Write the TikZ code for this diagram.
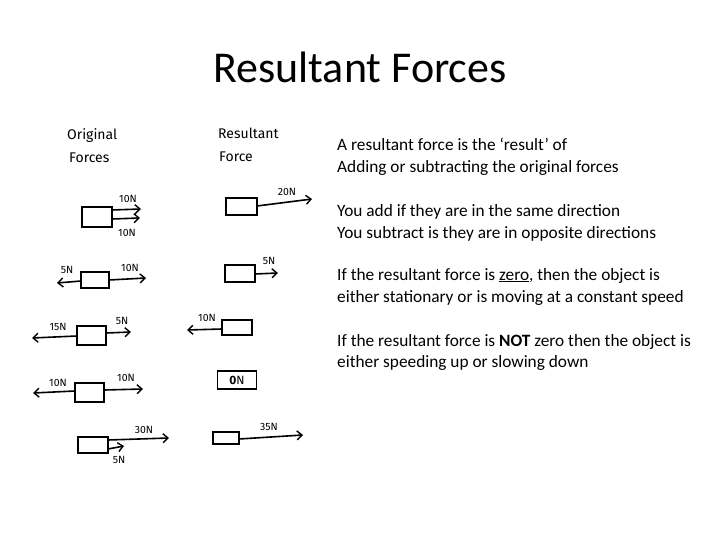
\documentclass[tikz,border=0pt]{standalone}
\usepackage{fontspec}
\setmainfont{Carlito}
\newfontfamily\handfont{Fira Sans}
\usetikzlibrary{arrows.meta}
\tikzset{
  body/.style={anchor=base west, inner sep=0pt, font=\fontsize{17.3}{20}\selectfont},
  obj/.style={draw, line width=1.6pt},
  force/.style={line width=1.6pt, -{Straight Barb[length=5pt,width=9pt,line width=1.4pt]}},
  hand/.style={inner sep=0pt, font=\handfont\fontsize{10.5}{12}\selectfont},
  head/.style={inner sep=0pt, anchor=west, font=\handfont\fontsize{14}{16}\selectfont}
}
\begin{document}
\begin{tikzpicture}[x=1pt,y=-1pt]
\useasboundingbox (0,0) rectangle (720,540);
% title
\node[inner sep=0pt, font=\fontsize{44}{48}\selectfont] (title) at (360,67) {Resultant Forces};
% body text
\node[body] (t1) at (337,151) {A resultant force is the ‘result’ of};
\node[body] (t2) at (337,173) {Adding or subtracting the original forces};
\node[body] (t3) at (337,216) {You add if they are in the same direction};
\node[body] (t4) at (337,238) {You subtract is they are in opposite directions};
\node[body] (t5) at (337,280) {If the resultant force is \underline{zero}, then the object is};
\node[body] (t6) at (337,302) {either stationary or is moving at a constant speed};
\node[body] (t7) at (337,346) {If the resultant force is \textbf{NOT} zero then the object is};
\node[body] (t8) at (337,367) {either speeding up or slowing down};
% headings
\node[head] (h1) at (67,136) {Original};
\node[head] (h2) at (69,158) {Forces};
\node[head] (h3) at (218,133) {Resultant};
\node[head] (h4) at (219,157) {Force};
% row 1
\draw[obj] (82,207) rectangle (112,227);
\coordinate (o1a) at (112,210); \coordinate (o1b) at (112,219);
\coordinate (e1a) at (141,209); \coordinate (e1b) at (140,218);
\draw[force] (o1a) -- (e1a);
\draw[force] (o1b) -- (e1b);
\node[hand] (l1a) at (128,199) {10N};
\node[hand] (l1b) at (127,233) {10N};
\draw[obj] (226,198) rectangle (257,215);
\coordinate (r1s) at (257,206); \coordinate (r1e) at (312,199);
\draw[force] (r1s) -- (r1e);
\node[hand] (r1l) at (287,192) {20N};
% row 2
\draw[obj] (81,272) rectangle (109,288);
\coordinate (o2l) at (81,281); \coordinate (e2l) at (57,283);
\coordinate (o2r) at (109,280); \coordinate (e2r) at (146,278);
\draw[force] (o2l) -- (e2l);
\draw[force] (o2r) -- (e2r);
\node[hand] (l2a) at (67,270) {5N};
\node[hand] (l2b) at (130,268) {10N};
\draw[obj] (225,265) rectangle (255,282);
\coordinate (r2s) at (255,274); \coordinate (r2e) at (278,273);
\draw[force] (r2s) -- (r2e);
\node[hand] (r2l) at (269,261) {5N};
% row 3
\draw[obj] (77,326) rectangle (106,345);
\coordinate (o3l) at (77,336); \coordinate (e3l) at (32,338);
\coordinate (o3r) at (106,333); \coordinate (e3r) at (131,332);
\draw[force] (o3l) -- (e3l);
\draw[force] (o3r) -- (e3r);
\node[hand] (l3a) at (58,327) {15N};
\node[hand] (l3b) at (122,321) {5N};
\draw[obj] (222,320) rectangle (252,335);
\coordinate (r3s) at (222,329); \coordinate (r3e) at (187,330);
\draw[force] (r3s) -- (r3e);
\node[hand] (r3l) at (207,318) {10N};
% row 4
\draw[obj] (75,383) rectangle (104,402);
\coordinate (o4l) at (75,391); \coordinate (e4l) at (33,393);
\coordinate (o4r) at (104,390); \coordinate (e4r) at (143,389);
\draw[force] (o4l) -- (e4l);
\draw[force] (o4r) -- (e4r);
\node[hand] (l4a) at (58,383) {10N};
\node[hand] (l4b) at (126,378) {10N};
\node[obj, minimum width=39pt, minimum height=18pt, inner sep=0pt,
      font=\handfont\fontsize{12}{14}\selectfont] (r4) at (237,380) {\textbf{0}N};
% row 5
\draw[obj] (78,437) rectangle (108,453);
\coordinate (o5a) at (108,440); \coordinate (e5a) at (169,438);
\coordinate (o5b) at (108,449); \coordinate (e5b) at (124,446);
\draw[force] (o5a) -- (e5a);
\draw[force] (o5b) -- (e5b);
\node[hand] (l5a) at (144,430) {30N};
\node[hand] (l5b) at (119,460) {5N};
\draw[obj] (213,432) rectangle (239,444);
\coordinate (r5s) at (239,439); \coordinate (r5e) at (303,435);
\draw[force] (r5s) -- (r5e);
\node[hand] (r5l) at (269,427) {35N};
\end{tikzpicture}
\end{document}
